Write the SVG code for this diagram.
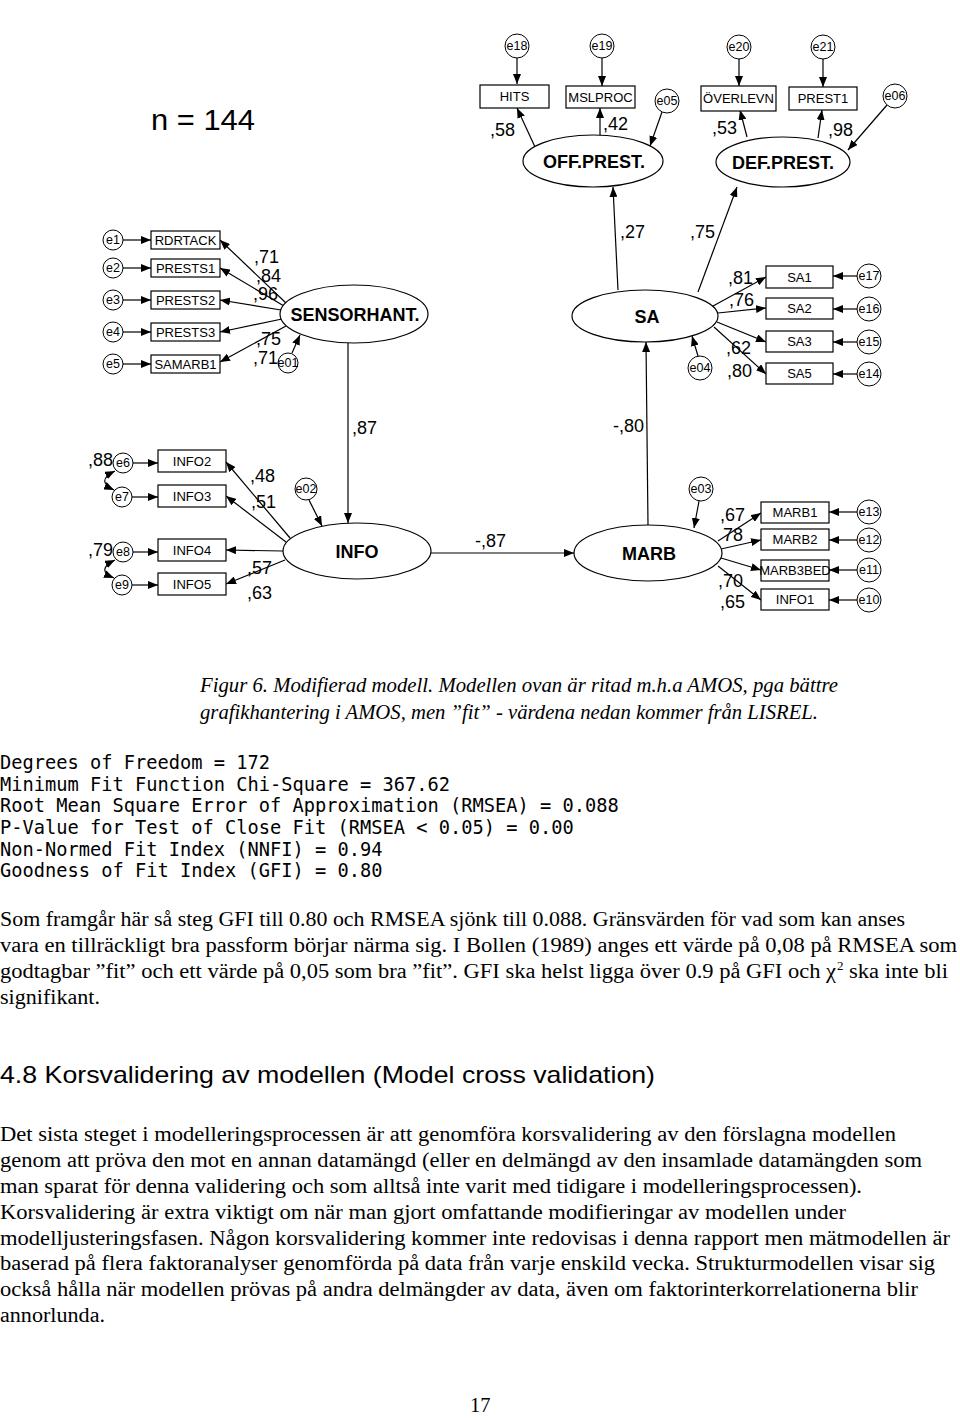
<svg xmlns="http://www.w3.org/2000/svg" width="960" height="1418" viewBox="0 0 960 1418">
<defs>
<marker id="a" viewBox="0 0 10 8" refX="10" refY="4" markerWidth="10" markerHeight="8" orient="auto-start-reverse" markerUnits="userSpaceOnUse"><path d="M0,0 L10,4 L0,8 z" fill="#000"/></marker>
<style>
.ln{stroke:#000;stroke-width:1.2;fill:none;marker-end:url(#a)}
.cv{stroke:#000;stroke-width:1.2;fill:none;marker-start:url(#a);marker-end:url(#a)}
.bx{fill:#fff;stroke:#000;stroke-width:1.2}
.el{fill:#fff;stroke:#000;stroke-width:1.2}
.er{fill:#fff;stroke:#000;stroke-width:1}
.bt{font-family:"Liberation Sans",Arial,sans-serif;font-size:13px;text-anchor:middle;fill:#000}
.et{font-family:"Liberation Sans",Arial,sans-serif;font-size:12.5px;text-anchor:middle;fill:#000}
.lt{font-family:"Liberation Sans",Arial,sans-serif;font-size:18px;font-weight:bold;text-anchor:middle;fill:#000}
.cf{font-family:"Liberation Sans",Arial,sans-serif;font-size:18px;fill:#000}
.mono{font-family:"DejaVu Sans Mono",monospace;font-size:18.7px;fill:#000}
.tx{font-family:"Liberation Serif","Times New Roman",serif;font-size:20.5px;fill:#000}
.cap{font-family:"Liberation Serif","Times New Roman",serif;font-size:20.5px;font-style:italic;fill:#000}
.hd{font-family:"Liberation Sans",Arial,sans-serif;font-size:24px;fill:#000}
</style>
</defs>
<rect width="960" height="1418" fill="#fff"/>

<text x="151" y="130" class="hd" style="font-size:29px" textLength="104" lengthAdjust="spacingAndGlyphs">n = 144</text>

<g id="connectors">
<line class="ln" x1="517" y1="58" x2="517" y2="84"/>
<line class="ln" x1="602" y1="58" x2="602" y2="86"/>
<line class="ln" x1="739" y1="59" x2="739" y2="86"/>
<line class="ln" x1="823" y1="59" x2="823" y2="87"/>
<line class="ln" x1="535" y1="147" x2="517" y2="108"/>
<line class="ln" x1="600" y1="135" x2="600" y2="108"/>
<line class="ln" x1="662" y1="112" x2="650" y2="146"/>
<line class="ln" x1="747" y1="137" x2="740" y2="110"/>
<line class="ln" x1="818" y1="138" x2="822" y2="110"/>
<line class="ln" x1="887" y1="105" x2="848" y2="150"/>
<line class="ln" x1="618" y1="290" x2="613" y2="187"/>
<line class="ln" x1="698" y1="292" x2="737" y2="187"/>
<line class="ln" x1="857" y1="276" x2="833" y2="276"/>
<line class="ln" x1="857" y1="309" x2="833" y2="309"/>
<line class="ln" x1="857" y1="342" x2="833" y2="342"/>
<line class="ln" x1="857" y1="374" x2="833" y2="374"/>
<line class="ln" x1="713" y1="306" x2="766" y2="277"/>
<line class="ln" x1="718" y1="313" x2="766" y2="308"/>
<line class="ln" x1="717" y1="322" x2="766" y2="342"/>
<line class="ln" x1="714" y1="327" x2="766" y2="374"/>
<line class="ln" x1="698" y1="356" x2="692" y2="336"/>
<line class="ln" x1="648" y1="525" x2="646" y2="342"/>
<line class="ln" x1="123" y1="240" x2="151" y2="240"/>
<line class="ln" x1="123" y1="268" x2="151" y2="268"/>
<line class="ln" x1="123" y1="300" x2="151" y2="300"/>
<line class="ln" x1="123" y1="332" x2="151" y2="332"/>
<line class="ln" x1="123" y1="364" x2="151" y2="364"/>
<line class="ln" x1="286" y1="303" x2="220" y2="240"/>
<line class="ln" x1="284" y1="306" x2="220" y2="268"/>
<line class="ln" x1="281" y1="310" x2="220" y2="300"/>
<line class="ln" x1="282" y1="319" x2="220" y2="332"/>
<line class="ln" x1="286" y1="326" x2="220" y2="362"/>
<line class="ln" x1="292" y1="353" x2="300" y2="335"/>
<line class="ln" x1="348" y1="343" x2="348" y2="523"/>
<line class="ln" x1="133" y1="463" x2="158" y2="463"/>
<line class="ln" x1="132" y1="497" x2="158" y2="497"/>
<line class="ln" x1="133" y1="552" x2="158" y2="552"/>
<line class="ln" x1="132" y1="585" x2="158" y2="585"/>
<line class="ln" x1="290" y1="538" x2="226" y2="462"/>
<line class="ln" x1="286" y1="542" x2="226" y2="496"/>
<line class="ln" x1="283" y1="551" x2="226" y2="550"/>
<line class="ln" x1="285" y1="560" x2="226" y2="584"/>
<path class="cv" d="M115,471 Q95,481 114,490"/>
<path class="cv" d="M115,560 Q95,570 114,578"/>
<line class="ln" x1="309" y1="500" x2="322" y2="526"/>
<line class="ln" x1="431" y1="553" x2="574" y2="553"/>
<line class="ln" x1="699" y1="501" x2="694" y2="528"/>
<line class="ln" x1="857" y1="512" x2="829" y2="512"/>
<line class="ln" x1="857" y1="540" x2="829" y2="540"/>
<line class="ln" x1="857" y1="570" x2="829" y2="570"/>
<line class="ln" x1="857" y1="600" x2="829" y2="600"/>
<line class="ln" x1="718" y1="541" x2="761" y2="513"/>
<line class="ln" x1="721" y1="549" x2="761" y2="540"/>
<line class="ln" x1="721" y1="558" x2="761" y2="570"/>
<line class="ln" x1="718" y1="566" x2="761" y2="600"/>
</g>

<g id="e18"><circle class="er" cx="517" cy="46" r="12"/><text class="et" x="517" y="50">e18</text></g>
<g id="e19"><circle class="er" cx="602" cy="46" r="12"/><text class="et" x="602" y="50">e19</text></g>
<g id="e20"><circle class="er" cx="739" cy="47" r="12"/><text class="et" x="739" y="51">e20</text></g>
<g id="e21"><circle class="er" cx="823" cy="47" r="12"/><text class="et" x="823" y="51">e21</text></g>
<g id="e05"><circle class="er" cx="667" cy="101" r="12"/><text class="et" x="667" y="105">e05</text></g>
<g id="e06"><circle class="er" cx="895" cy="96" r="12"/><text class="et" x="895" y="100">e06</text></g>
<g id="HITS"><rect class="bx" x="480" y="85" width="69" height="23"/><text class="bt" x="514.5" y="101">HITS</text></g>
<g id="MSLPROC"><rect class="bx" x="566" y="86" width="69" height="22"/><text class="bt" x="600.5" y="102">MSLPROC</text></g>
<g id="OVERLEVN"><rect class="bx" x="701" y="86" width="75" height="25"/><text class="bt" x="738.5" y="103">ÖVERLEVN</text></g>
<g id="PREST1"><rect class="bx" x="789" y="87" width="68" height="23"/><text class="bt" x="823" y="103">PREST1</text></g>
<g id="OFFPREST"><ellipse class="el" cx="593" cy="161" rx="70" ry="26"/><text class="lt" x="594" y="168">OFF.PREST.</text></g>
<g id="DEFPREST"><ellipse class="el" cx="783" cy="162" rx="67" ry="25"/><text class="lt" x="783" y="169">DEF.PREST.</text></g>

<g id="SA"><ellipse class="el" cx="645" cy="316" rx="73" ry="26"/><text class="lt" x="647" y="323">SA</text></g>
<g id="SA1"><rect class="bx" x="766" y="266" width="67" height="22"/><text class="bt" x="799.5" y="282">SA1</text></g>
<g id="SA2"><rect class="bx" x="766" y="298" width="67" height="21"/><text class="bt" x="799.5" y="313">SA2</text></g>
<g id="SA3"><rect class="bx" x="766" y="331" width="67" height="21"/><text class="bt" x="799.5" y="346">SA3</text></g>
<g id="SA5"><rect class="bx" x="766" y="363" width="67" height="21"/><text class="bt" x="799.5" y="378">SA5</text></g>
<g id="e17"><circle class="er" cx="869" cy="276" r="12"/><text class="et" x="869" y="280">e17</text></g>
<g id="e16"><circle class="er" cx="869" cy="309" r="12"/><text class="et" x="869" y="313">e16</text></g>
<g id="e15"><circle class="er" cx="869" cy="342" r="12"/><text class="et" x="869" y="346">e15</text></g>
<g id="e14"><circle class="er" cx="869" cy="374" r="12"/><text class="et" x="869" y="378">e14</text></g>
<g id="e04"><circle class="er" cx="700" cy="368" r="12"/><text class="et" x="700" y="372">e04</text></g>

<g id="SENSORHANT"><ellipse class="el" cx="354" cy="314" rx="74" ry="29"/><text class="lt" x="355" y="321">SENSORHANT.</text></g>
<g id="RDRTACK"><rect class="bx" x="151" y="231" width="69" height="18"/><text class="bt" x="185.5" y="245">RDRTACK</text></g>
<g id="PRESTS1"><rect class="bx" x="151" y="259" width="69" height="18"/><text class="bt" x="185.5" y="273">PRESTS1</text></g>
<g id="PRESTS2"><rect class="bx" x="151" y="291" width="69" height="18"/><text class="bt" x="185.5" y="305">PRESTS2</text></g>
<g id="PRESTS3"><rect class="bx" x="151" y="323" width="69" height="18"/><text class="bt" x="185.5" y="337">PRESTS3</text></g>
<g id="SAMARB1"><rect class="bx" x="151" y="355" width="69" height="18"/><text class="bt" x="185.5" y="369">SAMARB1</text></g>
<g id="e1"><circle class="er" cx="113" cy="240" r="10"/><text class="et" x="113" y="244">e1</text></g>
<g id="e2"><circle class="er" cx="113" cy="268" r="10"/><text class="et" x="113" y="272">e2</text></g>
<g id="e3"><circle class="er" cx="113" cy="300" r="10"/><text class="et" x="113" y="304">e3</text></g>
<g id="e4"><circle class="er" cx="113" cy="332" r="10"/><text class="et" x="113" y="336">e4</text></g>
<g id="e5"><circle class="er" cx="113" cy="364" r="10"/><text class="et" x="113" y="368">e5</text></g>
<g id="e01"><circle class="er" cx="288" cy="363" r="10"/><text class="et" x="288" y="367">e01</text></g>

<g id="INFO"><ellipse class="el" cx="357" cy="551" rx="74" ry="28"/><text class="lt" x="357" y="558">INFO</text></g>
<g id="INFO2"><rect class="bx" x="158" y="450" width="68" height="22"/><text class="bt" x="192" y="466">INFO2</text></g>
<g id="INFO3"><rect class="bx" x="158" y="485" width="68" height="22"/><text class="bt" x="192" y="501">INFO3</text></g>
<g id="INFO4"><rect class="bx" x="158" y="539" width="68" height="22"/><text class="bt" x="192" y="555">INFO4</text></g>
<g id="INFO5"><rect class="bx" x="158" y="573" width="68" height="22"/><text class="bt" x="192" y="589">INFO5</text></g>
<g id="e6"><circle class="er" cx="123" cy="463" r="10"/><text class="et" x="123" y="467">e6</text></g>
<g id="e7"><circle class="er" cx="122" cy="497" r="10"/><text class="et" x="122" y="501">e7</text></g>
<g id="e8"><circle class="er" cx="123" cy="552" r="10"/><text class="et" x="123" y="556">e8</text></g>
<g id="e9"><circle class="er" cx="122" cy="585" r="10"/><text class="et" x="122" y="589">e9</text></g>
<g id="e02"><circle class="er" cx="306" cy="489" r="11"/><text class="et" x="306" y="493">e02</text></g>

<g id="MARB"><ellipse class="el" cx="648" cy="553" rx="74" ry="28"/><text class="lt" x="649" y="560">MARB</text></g>
<g id="MARB1"><rect class="bx" x="761" y="502" width="68" height="21"/><text class="bt" x="795" y="517">MARB1</text></g>
<g id="MARB2"><rect class="bx" x="761" y="529" width="68" height="21"/><text class="bt" x="795" y="544">MARB2</text></g>
<g id="MARB3BED"><rect class="bx" x="761" y="560" width="68" height="21"/><text class="bt" x="795" y="575">MARB3BED</text></g>
<g id="INFO1"><rect class="bx" x="761" y="589" width="68" height="21"/><text class="bt" x="795" y="604">INFO1</text></g>
<g id="e13"><circle class="er" cx="869" cy="512" r="12"/><text class="et" x="869" y="516">e13</text></g>
<g id="e12"><circle class="er" cx="869" cy="540" r="12"/><text class="et" x="869" y="544">e12</text></g>
<g id="e11"><circle class="er" cx="869" cy="570" r="12"/><text class="et" x="869" y="574">e11</text></g>
<g id="e10"><circle class="er" cx="869" cy="600" r="12"/><text class="et" x="869" y="604">e10</text></g>
<g id="e03"><circle class="er" cx="701" cy="489" r="12"/><text class="et" x="701" y="493">e03</text></g>

<g id="coefficients">
<text class="cf" x="490" y="136">,58</text>
<text class="cf" x="603" y="130">,42</text>
<text class="cf" x="712" y="134">,53</text>
<text class="cf" x="828" y="136">,98</text>
<text class="cf" x="620" y="238">,27</text>
<text class="cf" x="690" y="238">,75</text>
<text class="cf" x="728" y="284">,81</text>
<text class="cf" x="729" y="306">,76</text>
<text class="cf" x="726" y="354">,62</text>
<text class="cf" x="727" y="377">,80</text>
<text class="cf" x="254" y="263">,71</text>
<text class="cf" x="256" y="282">,84</text>
<text class="cf" x="253" y="300">,96</text>
<text class="cf" x="256" y="345">,75</text>
<text class="cf" x="253" y="364">,71</text>
<text class="cf" x="352" y="434">,87</text>
<text class="cf" x="613" y="432">-,80</text>
<text class="cf" x="475" y="547">-,87</text>
<text class="cf" x="88" y="466">,88</text>
<text class="cf" x="88" y="556">,79</text>
<text class="cf" x="250" y="482">,48</text>
<text class="cf" x="251" y="508">,51</text>
<text class="cf" x="247" y="574">,57</text>
<text class="cf" x="247" y="599">,63</text>
<text class="cf" x="720" y="521">,67</text>
<text class="cf" x="723" y="541">78</text>
<text class="cf" x="718" y="587">,70</text>
<text class="cf" x="720" y="608">,65</text>
</g>

<text class="cap" x="200" y="692" textLength="638" lengthAdjust="spacingAndGlyphs">Figur 6. Modifierad modell. Modellen ovan är ritad m.h.a AMOS, pga bättre</text>
<text class="cap" x="200" y="719" textLength="618" lengthAdjust="spacingAndGlyphs">grafikhantering i AMOS, men ”fit” - värdena nedan kommer från LISREL.</text>

<text class="mono" x="0" y="769">Degrees of Freedom = 172</text>
<text class="mono" x="0" y="791">Minimum Fit Function Chi-Square = 367.62</text>
<text class="mono" x="0" y="812">Root Mean Square Error of Approximation (RMSEA) = 0.088</text>
<text class="mono" x="0" y="834">P-Value for Test of Close Fit (RMSEA &lt; 0.05) = 0.00</text>
<text class="mono" x="0" y="856">Non-Normed Fit Index (NNFI) = 0.94</text>
<text class="mono" x="0" y="877">Goodness of Fit Index (GFI) = 0.80</text>

<text class="tx" x="0" y="926" textLength="905" lengthAdjust="spacingAndGlyphs">Som framgår här så steg GFI till 0.80 och RMSEA sjönk till 0.088. Gränsvärden för vad som kan anses</text>
<text class="tx" x="0" y="952" textLength="957" lengthAdjust="spacingAndGlyphs">vara en tillräckligt bra passform börjar närma sig. I Bollen (1989) anges ett värde på 0,08 på RMSEA som</text>
<text class="tx" x="0" y="978" textLength="836" lengthAdjust="spacingAndGlyphs">godtagbar ”fit” och ett värde på 0,05 som bra ”fit”. GFI ska helst ligga över 0.9 på GFI och χ</text>
<text class="tx" x="837" y="970" style="font-size:13px">2</text>
<text class="tx" x="849" y="978" textLength="99" lengthAdjust="spacingAndGlyphs">ska inte bli</text>
<text class="tx" x="0" y="1004" textLength="100" lengthAdjust="spacingAndGlyphs">signifikant.</text>

<text class="hd" x="0" y="1083" textLength="655" lengthAdjust="spacingAndGlyphs">4.8  Korsvalidering av modellen (Model cross validation)</text>

<text class="tx" x="0" y="1141" textLength="896" lengthAdjust="spacingAndGlyphs">Det sista steget i modelleringsprocessen är att genomföra korsvalidering av den förslagna modellen</text>
<text class="tx" x="0" y="1167" textLength="922" lengthAdjust="spacingAndGlyphs">genom att pröva den mot en annan datamängd (eller en delmängd av den insamlade datamängden som</text>
<text class="tx" x="0" y="1193" textLength="862" lengthAdjust="spacingAndGlyphs">man sparat för denna validering och som alltså inte varit med tidigare i modelleringsprocessen).</text>
<text class="tx" x="0" y="1219" textLength="846" lengthAdjust="spacingAndGlyphs">Korsvalidering är extra viktigt om när man gjort omfattande modifieringar av modellen under</text>
<text class="tx" x="0" y="1245" textLength="950" lengthAdjust="spacingAndGlyphs">modelljusteringsfasen. Någon korsvalidering kommer inte redovisas i denna rapport men mätmodellen är</text>
<text class="tx" x="0" y="1270" textLength="935" lengthAdjust="spacingAndGlyphs">baserad på flera faktoranalyser genomförda på data från varje enskild vecka. Strukturmodellen visar sig</text>
<text class="tx" x="0" y="1296" textLength="918" lengthAdjust="spacingAndGlyphs">också hålla när modellen prövas på andra delmängder av data, även om faktorinterkorrelationerna blir</text>
<text class="tx" x="0" y="1322" textLength="105" lengthAdjust="spacingAndGlyphs">annorlunda.</text>

<text class="tx" x="470" y="1412">17</text>
</svg>
